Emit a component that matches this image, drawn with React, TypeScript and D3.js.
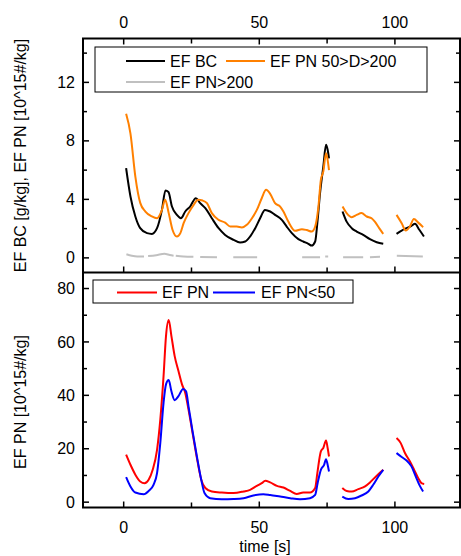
import React from "react";
import * as d3 from "d3";

type P = [number, number | null];

// ---- data (time [s], value); null breaks a line ----
const efBC: P[] = [
  [0.9, 6.13], [2.5, 4.2], [4.3, 2.83], [6.1, 2.03], [8.6, 1.69], [10.4, 1.64], [12.3, 2.03], [14.1, 3.28],
  [15.4, 4.6], [16.5, 4.5], [17.8, 3.51], [19.6, 2.94], [21.1, 2.71], [22.7, 3.17], [24.5, 3.51], [26.6, 4.08],
  [28.2, 3.74], [30.1, 3.4], [32.5, 2.71], [35, 2.03], [37.4, 1.57], [40.5, 1.23], [42.9, 1.05], [44.8, 1.12],
  [46.6, 1.46], [48.5, 2.03], [50.3, 2.71], [52.1, 3.28], [54, 3.17], [55.8, 2.94], [58.3, 2.6], [60.1, 2.14],
  [62, 1.69], [64.4, 1.28], [66.2, 1.12], [68.1, 0.96], [69.3, 0.84], [70.6, 1.12], [71.4, 2.37], [72.4, 4.42],
  [73.6, 6.24], [74.6, 7.73], [75.2, 7.39], [75.7, 6.8], [78, null],
  [80.7, 3.17], [82.2, 2.48], [84.1, 2.03], [85.9, 1.8], [88.3, 1.57], [90.8, 1.28], [93.3, 1.07], [95.7, 0.96],
  [98, null],
  [100.6, 1.64], [102.5, 1.87], [104.3, 2.03], [106.1, 2.19], [107.4, 2.33], [109, 1.92], [110.7, 1.46],
];

const efPN50to200: P[] = [
  [0.9, 9.85], [2.5, 8.5], [4.3, 5.56], [6.1, 3.76], [8, 3.17], [10.4, 2.83], [12.3, 2.71], [14.1, 3.28],
  [15.3, 3.97], [16.6, 3.06], [18, 1.92], [19.6, 1.46], [20.9, 1.69], [22.1, 2.37], [23.9, 3.06], [25.8, 3.63],
  [27.4, 3.97], [29.1, 3.92], [30.7, 3.74], [32.5, 3.06], [35, 2.6], [37.4, 2.41], [39.3, 2.14], [41.7, 2.14],
  [43.6, 2.08], [45.4, 2.26], [47.3, 2.71], [49.1, 3.28], [50.9, 4.08], [52.5, 4.65], [54, 4.38], [55.8, 3.74],
  [57.7, 3.51], [58.9, 3.17], [60.7, 2.48], [63.2, 1.85], [65.7, 1.96], [67.5, 1.9], [69.3, 1.8], [70.6, 2.14],
  [71.8, 3.5], [72.7, 5.34], [73.6, 5.9], [74.6, 7.16], [75.1, 6.8], [75.7, 6.0], [78, null],
  [80.7, 3.51], [82.2, 3.06], [84.1, 2.78], [85.9, 2.94], [87.7, 3.06], [89.6, 2.83], [91.4, 2.71], [92.6, 2.48],
  [94.2, 2.03], [95.7, 1.64], [98, null],
  [100.6, 2.94], [102.5, 2.37], [104, 1.87], [105.5, 2.14], [107, 2.65], [108.6, 2.41], [110.4, 2.1],
];

const efPNover200: P[] = [
  [1, 0.25], [3, 0.15], [5, 0.1], [7.5, 0.1], [8.5, null],
  [9, 0.12], [12, 0.18], [15, 0.28], [17, 0.2], [18.4, 0.15], [18.7, null],
  [19.2, 0.15], [22, 0.1], [25.7, 0.08], [27, null],
  [28.2, 0.06], [34.4, 0.05], [37, null],
  [40.4, 0.05], [49.2, 0.05], [55, null],
  [65.8, 0.05], [72.4, 0.05], [73.4, null],
  [74.3, 0.1], [75.4, 0.1], [78, null],
  [80.9, 0.05], [88.3, 0.05], [89.5, null],
  [90.8, 0.05], [94.5, 0.08], [97, null],
  [100.7, 0.15], [110.3, 0.1],
];

const efPN: P[] = [
  [0.9, 17.8], [2.5, 14], [4.3, 10.3], [6.1, 7.75], [7.7, 7.1], [9.2, 8.4], [10.7, 12.1], [12.3, 19.6],
  [13.5, 30.9], [14.7, 47.2], [15.6, 62.2], [16.6, 68.2], [17.6, 62.2], [18.8, 54.7], [20.2, 49.1], [21.5, 44.1],
  [22.7, 40.9], [23.9, 34.7], [25.4, 25.9], [27, 16.5], [28.6, 8.4], [30.1, 5.3], [32.5, 4], [36.2, 3.6],
  [40.5, 3.4], [44.2, 4], [46.6, 4.6], [49.1, 6.1], [50.9, 7.1], [52.2, 8], [54, 7.4], [56.5, 6.1],
  [58.9, 5.5], [61.4, 4.2], [63.8, 3.1], [66.2, 3.6], [68.7, 3.6], [70.6, 5.3], [71.4, 10.9], [72.7, 19],
  [73.6, 20.3], [74.6, 23.1], [75.2, 20.3], [75.7, 17.1], [78, null],
  [80.6, 5.3], [82.2, 4.2], [84.1, 4], [86.5, 4.9], [89, 5.9], [90.8, 7.4], [93.3, 9.9], [95.7, 12.1], [98, null],
  [100.6, 24], [102.1, 22.2], [103.7, 18.4], [105.5, 15.3], [107.1, 12.1], [108.6, 9], [109.8, 7.1], [110.8, 6.8],
];

const efPNbelow50: P[] = [
  [0.9, 9.4], [2.5, 5.9], [4.3, 3.6], [7.4, 3], [9.2, 4.2], [11, 6.5], [12.3, 10.9], [13.5, 22.2],
  [14.7, 37.2], [15.6, 44.1], [16.6, 45.7], [17.6, 41.5], [18.8, 38.2], [20.2, 39.7], [21.9, 42.4], [23, 41.5],
  [23.9, 35.9], [25.4, 26.5], [27, 17.1], [28.6, 8.4], [29.8, 3.4], [31.9, 1.5], [36.2, 1.1], [40.5, 1.2],
  [44.2, 1.5], [47.8, 2.5], [51.5, 3], [54, 2.7], [57.7, 2.1], [61.4, 1.5], [65, 1.1], [68.7, 1.5],
  [70.6, 2.7], [71.5, 7.1], [72.7, 12.1], [73.9, 14], [74.6, 16.1], [75.2, 14], [75.7, 11.5], [78, null],
  [80.6, 2.1], [82.8, 1.2], [85.3, 1.5], [87.7, 2.5], [90.2, 4], [92, 6.5], [93.9, 9.6], [95.7, 12.1], [98, null],
  [100.6, 18.4], [102.5, 16.9], [104.3, 15.6], [106.1, 13.4], [107.7, 9.6], [109.2, 6.1], [110.4, 4],
];

const xMajor = [0, 50, 100];
const xMinor = [25, 75];
const topMajor = [0, 4, 8, 12];
const topMinor = [2, 6, 10, 14];
const botMajor = [0, 20, 40, 60, 80];
const botMinor = [10, 30, 50, 70];

const FONT = "'Liberation Sans', Arial, sans-serif";

export default function App() {
  const W = 461, H = 556;
  const L = 83, R = 460, T = 38.5, M = 272.5, B = 507.5;
  const x = d3.scaleLinear().domain([-15, 124]).range([L, R]);
  const yTop = d3.scaleLinear().domain([-1, 15]).range([M, T]);
  const yBot = d3.scaleLinear().domain([-2, 86]).range([B, M]);

  const mk = (ys: d3.ScaleLinear<number, number>) =>
    d3.line<P>()
      .defined((d) => d[1] != null)
      .x((d) => x(d[0]))
      .y((d) => ys(d[1] as number))
      .curve(d3.curveMonotoneX);
  const lt = mk(yTop);
  const lb = mk(yBot);

  const maj = 6, mnr = 4;
  const tickStroke = { stroke: "#000", strokeWidth: 1.5 };

  const yTicks = (ys: d3.ScaleLinear<number, number>, major: number[], minor: number[]) => (
    <g>
      {major.map((v) => (
        <g key={"M" + v}>
          <line x1={L} x2={L + maj} y1={ys(v)} y2={ys(v)} {...tickStroke} />
          <line x1={R} x2={R - maj} y1={ys(v)} y2={ys(v)} {...tickStroke} />
          <text x={75} y={ys(v)} dy="0.35em" textAnchor="end" fontSize={16} fontFamily={FONT}>{v}</text>
        </g>
      ))}
      {minor.map((v) => (
        <g key={"m" + v}>
          <line x1={L} x2={L + mnr} y1={ys(v)} y2={ys(v)} {...tickStroke} />
          <line x1={R} x2={R - mnr} y1={ys(v)} y2={ys(v)} {...tickStroke} />
        </g>
      ))}
    </g>
  );

  const xTicks = (y0: number, dir: number, len: number, vals: number[]) =>
    vals.map((v) => (
      <line key={"x" + y0 + v} x1={x(v)} x2={x(v)} y1={y0} y2={y0 + dir * len} {...tickStroke} />
    ));

  return (
    <svg width={W} height={H} style={{ position: "absolute", left: 0, top: 0, background: "#fff" }}>
      <rect x={0} y={0} width={W} height={H} fill="#fff" />
      {/* data top */}
      <path d={lt(efPNover200) || ""} fill="none" stroke="#c0c0c0" strokeWidth={2} />
      <path d={lt(efBC) || ""} fill="none" stroke="#000" strokeWidth={2} />
      <path d={lt(efPN50to200) || ""} fill="none" stroke="#ff8000" strokeWidth={2} />
      {/* data bottom */}
      <path d={lb(efPN) || ""} fill="none" stroke="#ff0000" strokeWidth={2} />
      <path d={lb(efPNbelow50) || ""} fill="none" stroke="#0000ff" strokeWidth={2} />

      {/* frames */}
      <rect x={L} y={T} width={R - L} height={B - T} fill="none" stroke="#000" strokeWidth={2} />
      <line x1={L} x2={R} y1={M} y2={M} stroke="#000" strokeWidth={2} />

      {yTicks(yTop, topMajor, topMinor)}
      {yTicks(yBot, botMajor, botMinor)}
      {xTicks(T, 1, maj, xMajor)}
      {xTicks(T, 1, mnr + 1, xMinor)}
      {xTicks(M, -1, maj, xMajor)}
      {xTicks(M, -1, mnr + 1, xMinor)}
      {xTicks(B, -1, maj, xMajor)}
      {xTicks(B, -1, mnr + 1, xMinor)}

      {xMajor.map((v) => (
        <text key={"tl" + v} x={x(v)} y={28} textAnchor="middle" fontSize={16} fontFamily={FONT}>{v}</text>
      ))}
      {xMajor.map((v) => (
        <text key={"bl" + v} x={x(v)} y={533} textAnchor="middle" fontSize={16} fontFamily={FONT}>{v}</text>
      ))}
      <text x={265} y={552} textAnchor="middle" fontSize={16} fontFamily={FONT}>time [s]</text>

      <text transform={`translate(26,${(T + M) / 2}) rotate(-90)`} textAnchor="middle" fontSize={16} fontFamily={FONT}>
        EF BC [g/kg], EF PN [10^15#/kg]
      </text>
      <text transform={`translate(26,402) rotate(-90)`} textAnchor="middle" fontSize={16} fontFamily={FONT}>
        EF PN [10^15#/kg]
      </text>

      {/* top legend */}
      <rect x={95} y={47} width={332} height={45} fill="#fff" stroke="#000" strokeWidth={1} />
      <line x1={126} x2={165} y1={61} y2={61} stroke="#000" strokeWidth={2} />
      <text x={170} y={61} dy="0.35em" fontSize={16} fontFamily={FONT}>EF BC</text>
      <line x1={226} x2={265} y1={61} y2={61} stroke="#ff8000" strokeWidth={2} />
      <text x={270} y={61} dy="0.35em" fontSize={16} fontFamily={FONT}>EF PN 50&gt;D&gt;200</text>
      <line x1={126} x2={165} y1={82} y2={82} stroke="#c0c0c0" strokeWidth={2} />
      <text x={170} y={82} dy="0.35em" fontSize={16} fontFamily={FONT}>EF PN&gt;200</text>

      {/* bottom legend */}
      <rect x={93} y={280} width={260} height={23} fill="#fff" stroke="#000" strokeWidth={1} />
      <line x1={117} x2={157} y1={292.5} y2={292.5} stroke="#ff0000" strokeWidth={2} />
      <text x={162} y={292.5} dy="0.35em" fontSize={16} fontFamily={FONT}>EF PN</text>
      <line x1={213} x2={255} y1={292.5} y2={292.5} stroke="#0000ff" strokeWidth={2} />
      <text x={261} y={292.5} dy="0.35em" fontSize={16} fontFamily={FONT}>EF PN&lt;50</text>
    </svg>
  );
}
